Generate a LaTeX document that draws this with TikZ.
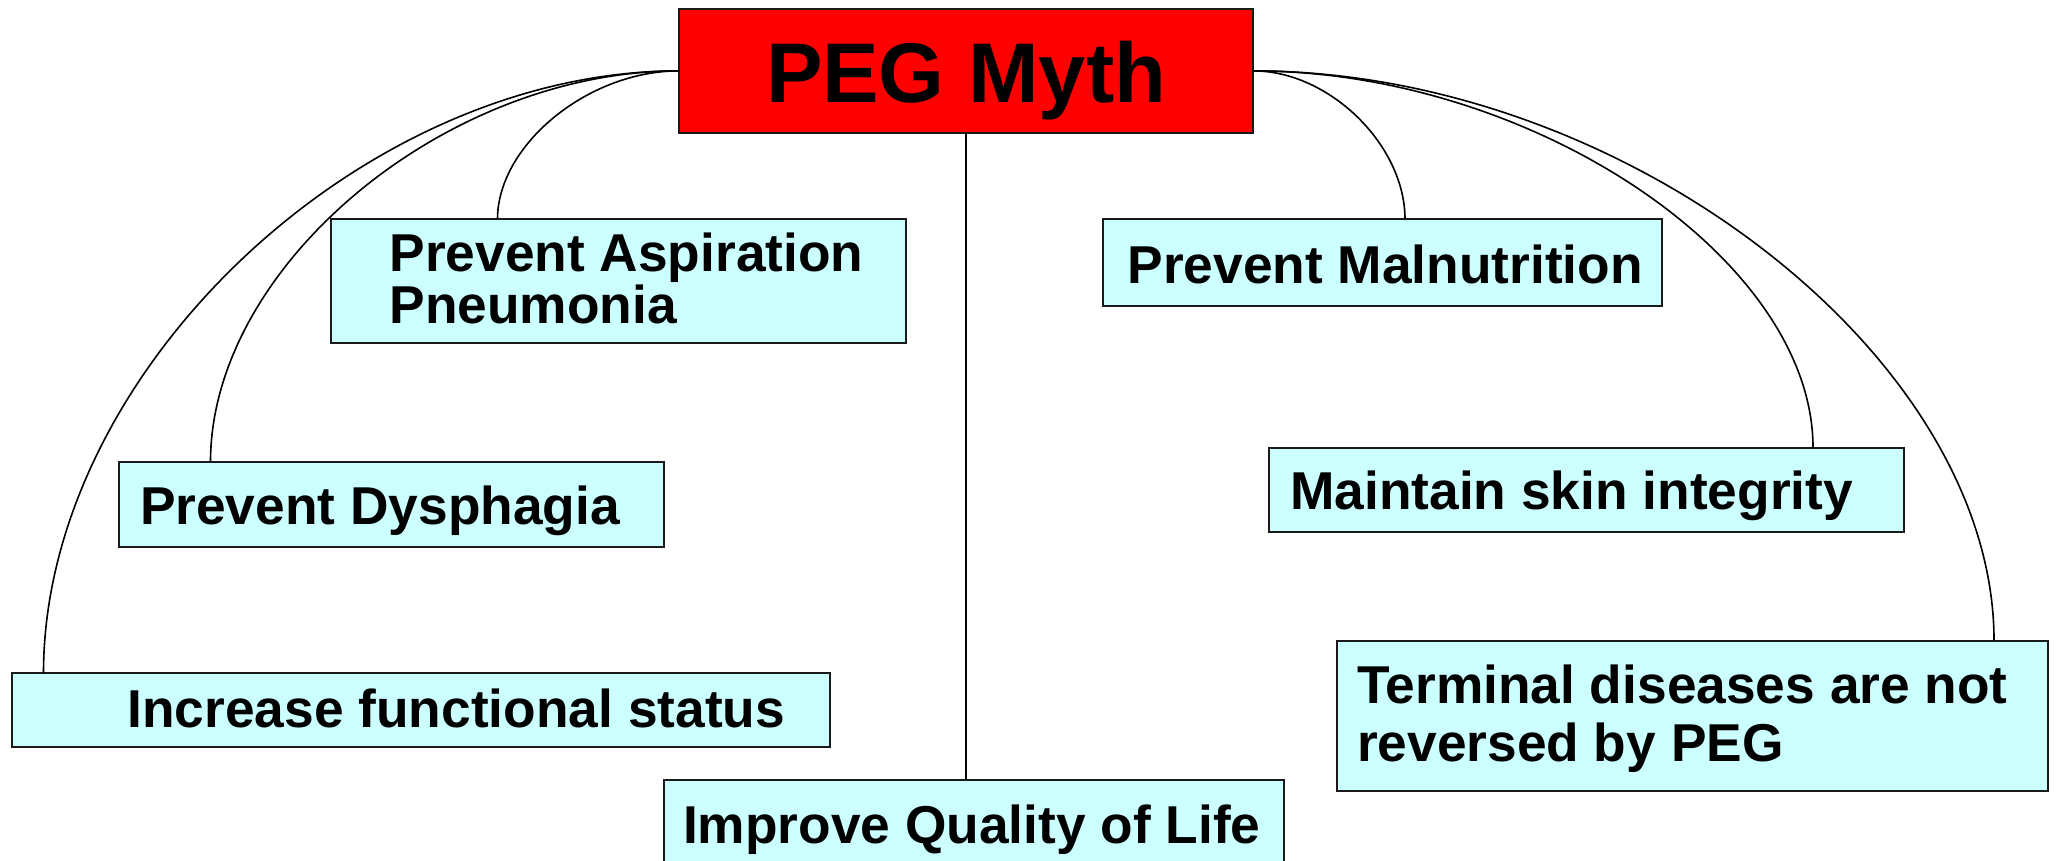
\documentclass[tikz,border=0pt]{standalone}
\usepackage{fontspec}
\setmainfont{Liberation Sans}
\usetikzlibrary{calc}
\definecolor{boxcyan}{HTML}{CCFFFF}
\definecolor{edgegray}{HTML}{1A1A1A}
\tikzset{
  card/.style={draw=edgegray, line width=2pt, fill=boxcyan, inner sep=0pt, outer sep=0pt, anchor=north west},
  headcard/.style={card, fill=red},
  txt/.style={anchor=base west, inner sep=0pt, outer sep=0pt, align=left, font=\bfseries\fontsize{53.3}{51.7}\selectfont},
  conn/.style={draw=black, line width=1.6pt},
}
\newcommand\quarterlink[2]{\draw[conn] (#1) .. controls ($(#1)!0.5!(#2|-#1)$) and ($(#2)!0.5!(#2|-#1)$) .. (#2);}
\begin{document}
\begin{tikzpicture}[x=1pt,y=-1pt]
\useasboundingbox (0,0) rectangle (2058,861);
% boxes
\node[headcard, minimum width=574.8pt, minimum height=123.4pt] (peg) at (678.6,9.2) {};
\node[anchor=base, inner sep=0pt, font=\bfseries\fontsize{84.7}{90}\selectfont] (pegT) at ([yshift=-93.1pt]peg.north) {PEG Myth};

\node[card, minimum width=574.8pt, minimum height=124.2pt] (asp) at (330.8,219.2) {};
\node[txt] (aspT) at ([xshift=58.7pt,yshift=-104.2pt]asp.north west) {Prevent Aspiration\\Pneumonia};

\node[card, minimum width=545pt, minimum height=85.3pt] (dys) at (119.4,462) {};
\node[txt] (dysT) at ([xshift=20.6pt,yshift=-62.3pt]dys.north west) {Prevent Dysphagia};

\node[card, minimum width=817.7pt, minimum height=73.5pt] (inc) at (11.8,673.3) {};
\node[txt] (incT) at ([xshift=115.8pt,yshift=-53.7pt]inc.north west) {Increase functional status};

\node[card, minimum width=619.6pt, minimum height=100pt] (qol) at (664,779.6) {};
\node[txt] (qolT) at ([xshift=19pt,yshift=-63.7pt]qol.north west) {Improve Quality of Life};

\node[card, minimum width=559pt, minimum height=86.6pt] (mal) at (1102.5,219.2) {};
\node[txt] (malT) at ([xshift=25.1pt,yshift=-63.8pt]mal.north west) {Prevent Malnutrition};

\node[card, minimum width=634.5pt, minimum height=84.5pt] (skin) at (1269.2,447.6) {};
\node[txt] (skinT) at ([xshift=21.1pt,yshift=-61.4pt]skin.north west) {Maintain skin integrity};

\node[card, minimum width=711pt, minimum height=150pt] (term) at (1337.4,640.5) {};
\node[txt, font=\bfseries\fontsize{53.3}{58.3}\selectfont] (termT) at ([xshift=19.6pt,yshift=-121.1pt]term.north west) {Terminal diseases are not\\reversed by PEG};

% connector ends
\coordinate (cAsp) at ([xshift=166.7pt]asp.north west);
\coordinate (cDys) at ([xshift=91.1pt]dys.north west);
\coordinate (cInc) at ([xshift=31.7pt]inc.north west);
\coordinate (cMal) at ([xshift=302.5pt]mal.north west);
\coordinate (cSkin) at ([xshift=543.8pt]skin.north west);
\coordinate (cTerm) at ([xshift=656.6pt]term.north west);

\quarterlink{peg.west}{cAsp}
\quarterlink{peg.west}{cDys}
\quarterlink{peg.west}{cInc}
\quarterlink{peg.east}{cMal}
\quarterlink{peg.east}{cSkin}
\quarterlink{peg.east}{cTerm}
\draw[conn] (peg.south) -- (peg.south |- qol.north);
\end{tikzpicture}
\end{document}
